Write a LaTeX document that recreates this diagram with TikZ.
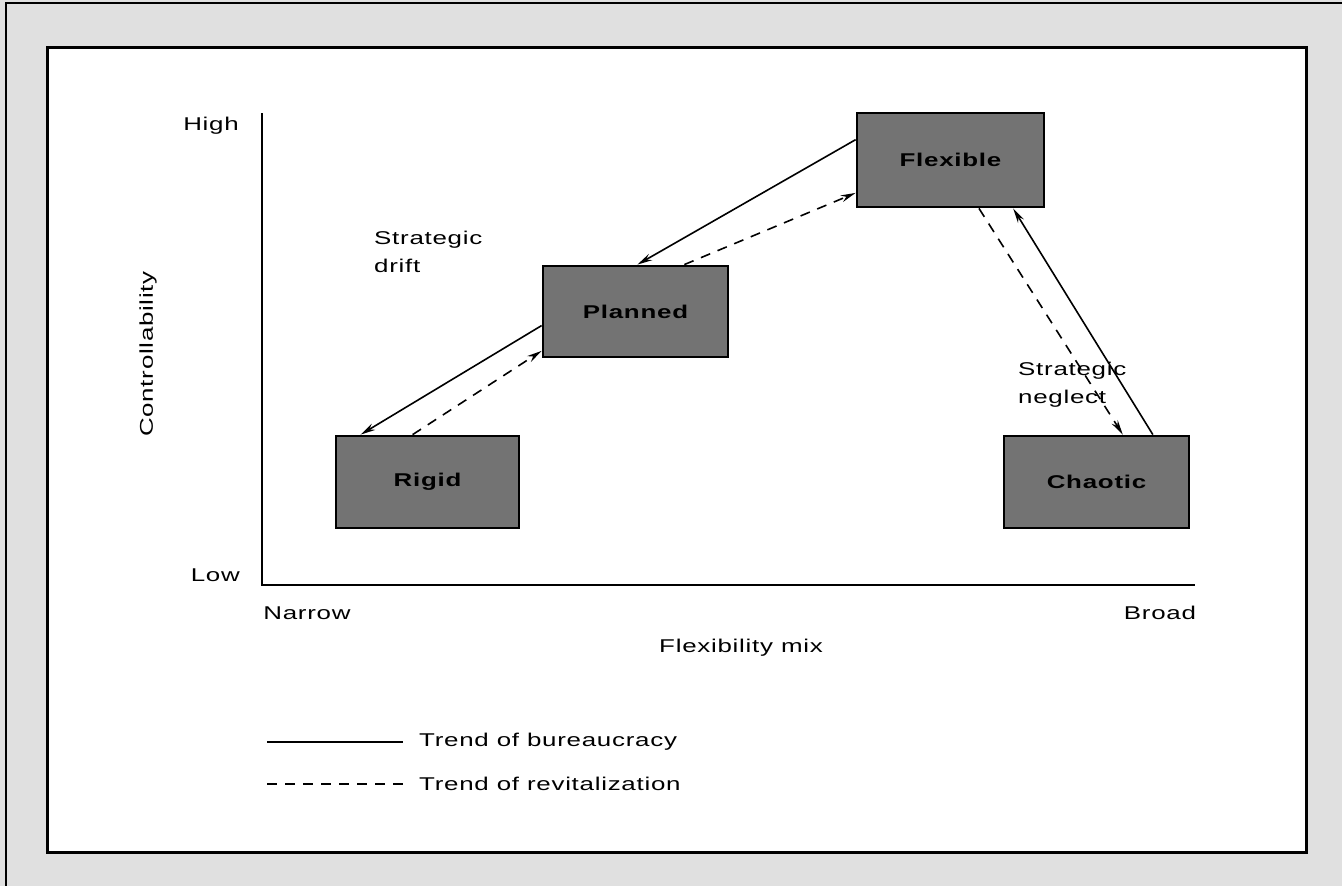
\documentclass[tikz,border=0pt]{standalone}
\usepackage{fontspec}
\setmainfont{Liberation Sans}[FakeStretch=1.4, LetterSpace=4]
\usetikzlibrary{calc,arrows.meta}
\begin{document}
\begin{tikzpicture}[x=1pt,y=-1pt,
  every node/.style={font=\fontsize{18.5}{28}\selectfont, inner sep=0pt},
  lbl/.style={align=left, anchor=north west},
  zone/.style={draw=black, line width=2.8pt, fill=black!55, text=black,
               minimum width=#1, minimum height=92pt, font=\fontsize{18.5}{28}\selectfont\bfseries},
  trend/.style={line width=1.6pt, -{Stealth[length=15pt,width=7pt]}},
  bureau/.style={trend},
  revital/.style={trend, dash pattern=on 10pt off 8pt},
  axis/.style={line width=2pt}]
% frame
\useasboundingbox (0,0) rectangle (1342,886);
\fill[black!12] (0,0) rectangle (1342,886);
\draw[line width=2.6pt] (6,886) -- (6,3) -- (1342,3);
\draw[line width=3pt, fill=white] (47,47) rectangle (1306,852);

% axes
\coordinate (o) at (262,585);
\coordinate (ytop) at (262,113);
\coordinate (xend) at (1195,585);
\draw[axis] (ytop) -- (o) -- (xend);
\node[anchor=east] (hi) at (239,126) {High};
\node[anchor=east] (lo) at (240,575) {Low};
\node (na) at (307,613) {Narrow};
\node (br) at (1160,613) {Broad};
\node (fm) at (741,648) {Flexibility mix};
\node[rotate=90] (ct) at (148,354) {Controllability};

% organisational forms
\node[zone=187pt, minimum height=94pt] (fl) at (950.5,160) {Flexible};
\node[zone=185pt, minimum height=91pt] (pl) at (635.5,311.5) {Planned};
\node[zone=183pt] (rg) at (427.5,482) {Rigid};
\node[zone=185pt] (ch) at (1096.5,482) {Chaotic};

% trends between the forms
\draw[bureau]  ($(fl.north west)!0.29!(fl.south west)$) -- ($(pl.north west)!0.51!(pl.north east)$);
\draw[revital] ($(pl.north west)!0.76!(pl.north east)$) -- ($(fl.north west)!0.84!(fl.south west)$);
\draw[bureau]  ($(pl.north west)!0.65!(pl.south west)$) -- ($(rg.north west)!0.14!(rg.north east)$);
\draw[revital] ($(rg.north west)!0.42!(rg.north east)$) -- ($(pl.north west)!0.92!(pl.south west)$);
\draw[revital] ($(fl.south west)!0.65!(fl.south east)$) -- ($(ch.north west)!0.64!(ch.north east)$);
\draw[bureau]  ($(ch.north west)!0.80!(ch.north east)$) -- ($(fl.south west)!0.83!(fl.south east)$);

\node[lbl] (sd) at (374,231) {Strategic\\drift};
\node[lbl] (sn) at (1018,362) {Strategic\\neglect};

% legend
\coordinate (l1a) at (267,742);
\coordinate (l1b) at (403,742);
\coordinate (l2a) at (267,784);
\coordinate (l2b) at (403,784);
\draw[line width=1.6pt] (l1a) -- (l1b);
\draw[line width=1.6pt, dash pattern=on 10pt off 8pt] (l2a) -- (l2b);
\node[anchor=west] (lg1) at (419,742) {Trend of bureaucracy};
\node[anchor=west] (lg2) at (419,784) {Trend of revitalization};
\end{tikzpicture}
\end{document}
